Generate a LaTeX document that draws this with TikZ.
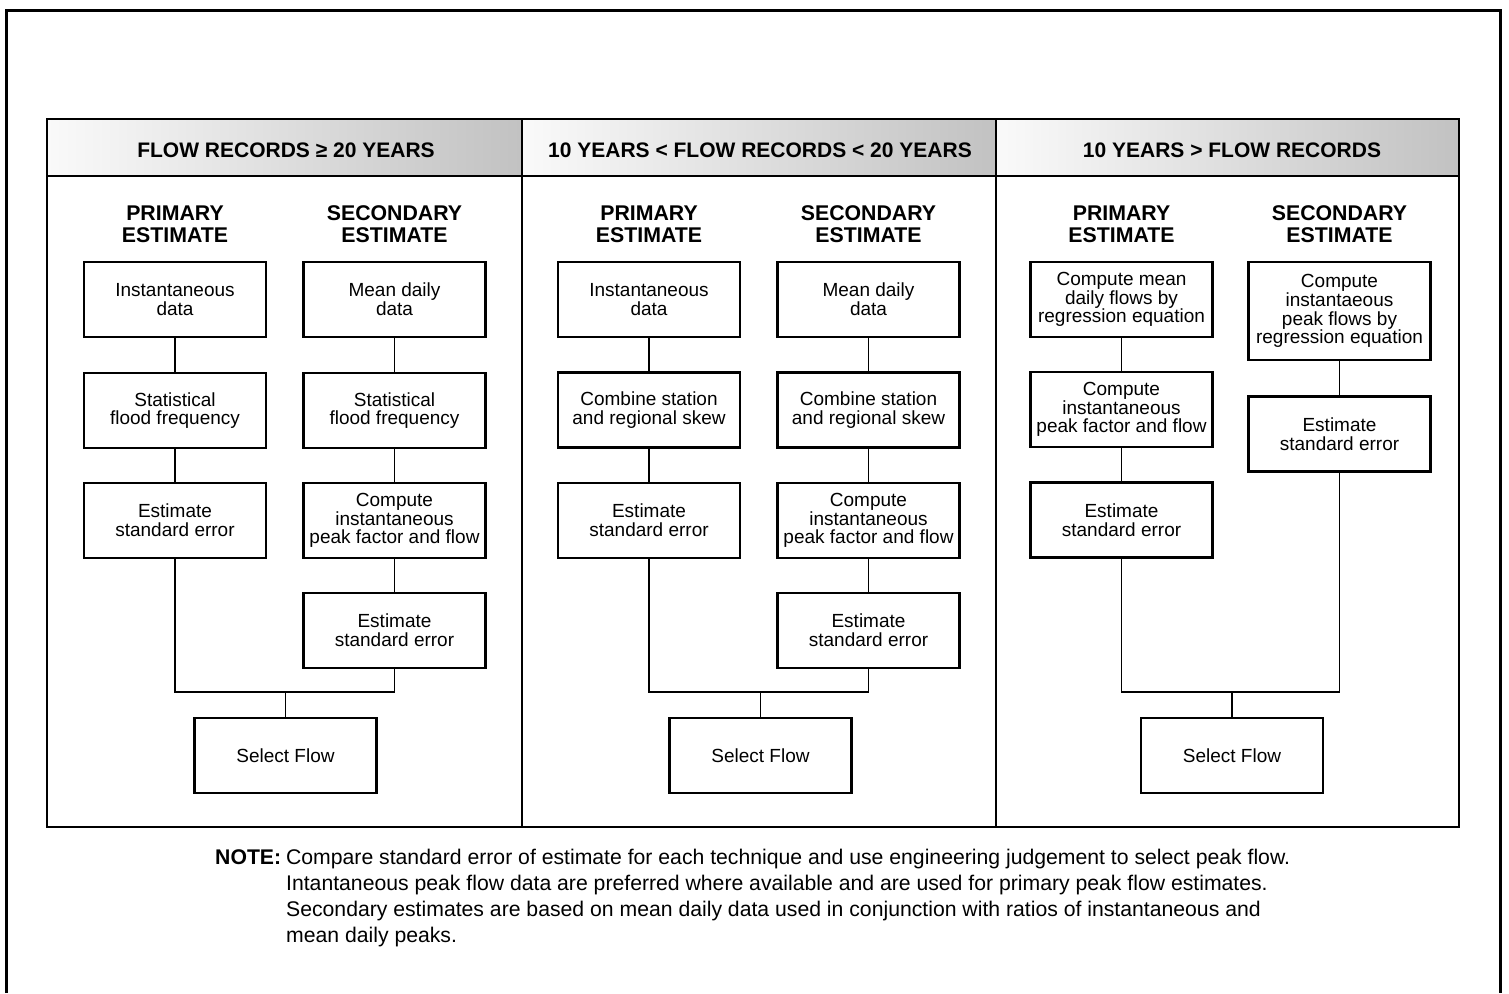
\documentclass[tikz,border=0pt]{standalone}
\usepackage{fontspec}
\setmainfont{Liberation Sans}
\begin{document}
\begin{tikzpicture}[x=1pt,y=-1pt,
  box/.style={draw, line width=2.4pt, minimum width=182pt, minimum height=75pt, align=center, inner sep=1pt, font=\fontsize{19}{18.8}\selectfont},
  tallbox/.style={box, minimum height=98pt},
  subhead/.style={align=center, font=\fontsize{21.3}{22}\selectfont\bfseries},
  colhead/.style={font=\fontsize{21}{22}\selectfont\bfseries},
  conn/.style={line width=1.3pt},
  frame/.style={line width=2pt}]
\useasboundingbox (0,0) rectangle (1509,993);
% outer frame (open at the bottom)
\draw[line width=3pt] (6,993) -- (6,10) -- (1500,10) -- (1500,993);
% header shading
\shade[left color=gray!4, right color=gray!48] (47,119) rectangle (522,176);
\shade[left color=gray!4, right color=gray!48] (522,119) rectangle (996,176);
\shade[left color=gray!4, right color=gray!48] (996,119) rectangle (1459,176);
% inner panel
\draw[frame] (47,119) rectangle (1459,827);
\draw[frame] (47,176) -- (1459,176);
\draw[frame] (522,119) -- (522,827);
\draw[frame] (996,119) -- (996,827);
% column headers
\node[colhead] (h1) at (286,150) {FLOW RECORDS ≥ 20 YEARS};
\node[colhead] (h2) at (760,150) {10 YEARS < FLOW RECORDS < 20 YEARS};
\node[colhead] (h3) at (1232,150) {10 YEARS > FLOW RECORDS};
% sub headings
\node[subhead] (c1ph) at (175,224) {PRIMARY\\ESTIMATE};
\node[subhead] (c1sh) at (394.5,224) {SECONDARY\\ESTIMATE};
\node[subhead] (c2ph) at (649,224) {PRIMARY\\ESTIMATE};
\node[subhead] (c2sh) at (868.5,224) {SECONDARY\\ESTIMATE};
\node[subhead] (c3ph) at (1121.5,224) {PRIMARY\\ESTIMATE};
\node[subhead] (c3sh) at (1339.5,224) {SECONDARY\\ESTIMATE};
% column 1
\node[box] (c1p1) at (175,299.5) {Instantaneous\\data};
\node[box] (c1p2) at (175,410.5) {Statistical\\flood frequency};
\node[box] (c1p3) at (175,520.5) {Estimate\\standard error};
\node[box] (c1s1) at (394.5,299.5) {Mean daily\\data};
\node[box] (c1s2) at (394.5,410.5) {Statistical\\flood frequency};
\node[box] (c1s3) at (394.5,520.5) {Compute\\instantaneous\\peak factor and flow};
\node[box] (c1s4) at (394.5,630.5) {Estimate\\standard error};
\node[box] (sel1) at (285.5,755.5) {Select Flow};
\coordinate (j1) at (285.5,692);
% column 2
\node[box] (c2p1) at (649,299.5) {Instantaneous\\data};
\node[box] (c2p2) at (649,410) {Combine station\\and regional skew};
\node[box] (c2p3) at (649,520.5) {Estimate\\standard error};
\node[box] (c2s1) at (868.5,299.5) {Mean daily\\data};
\node[box] (c2s2) at (868.5,410) {Combine station\\and regional skew};
\node[box] (c2s3) at (868.5,520.5) {Compute\\instantaneous\\peak factor and flow};
\node[box] (c2s4) at (868.5,630.5) {Estimate\\standard error};
\node[box] (sel2) at (760.5,755.5) {Select Flow};
\coordinate (j2) at (760.5,692);
% column 3
\node[box] (c3p1) at (1121.5,299.5) {Compute mean\\daily flows by\\regression equation};
\node[box] (c3p2) at (1121.5,409.5) {Compute\\instantaneous\\peak factor and flow};
\node[box] (c3p3) at (1121.5,520) {Estimate\\standard error};
\node[tallbox] (c3s1) at (1339.5,311) {Compute\\instantaeous\\peak flows by\\regression equation};
\node[box] (c3s2) at (1339.5,434) {Estimate\\standard error};
\node[box] (sel3) at (1232,755.5) {Select Flow};
\coordinate (j3) at (1232,692);
% connectors column 1
\draw[conn] (c1p1) -- (c1p2);
\draw[conn] (c1p2) -- (c1p3);
\draw[conn] (c1s1) -- (c1s2);
\draw[conn] (c1s2) -- (c1s3);
\draw[conn] (c1s3) -- (c1s4);
\draw[conn] (c1p3.south) |- (j1) -| (c1s4.south);
\draw[conn] (j1) -- (sel1.north);
% connectors column 2
\draw[conn] (c2p1) -- (c2p2);
\draw[conn] (c2p2) -- (c2p3);
\draw[conn] (c2s1) -- (c2s2);
\draw[conn] (c2s2) -- (c2s3);
\draw[conn] (c2s3) -- (c2s4);
\draw[conn] (c2p3.south) |- (j2) -| (c2s4.south);
\draw[conn] (j2) -- (sel2.north);
% connectors column 3
\draw[conn] (c3p1) -- (c3p2);
\draw[conn] (c3p2) -- (c3p3);
\draw[conn] (c3s1) -- (c3s2);
\draw[conn] (c3p3.south) |- (j3) -| (c3s2.south);
\draw[conn] (j3) -- (sel3.north);
% note
\node[anchor=north west, inner sep=0pt, font=\fontsize{21.2}{26}\selectfont] (note) at (215,846) {%
\begin{tabular}{@{}l@{\hspace{5pt}}l@{}}
\textbf{NOTE:} & Compare standard error of estimate for each technique and use engineering judgement to select peak flow.\\
 & Intantaneous peak flow data are preferred where available and are used for primary peak flow estimates.\\
 & Secondary estimates are based on mean daily data used in conjunction with ratios of instantaneous and\\
 & mean daily peaks.
\end{tabular}};
\end{tikzpicture}
\end{document}
